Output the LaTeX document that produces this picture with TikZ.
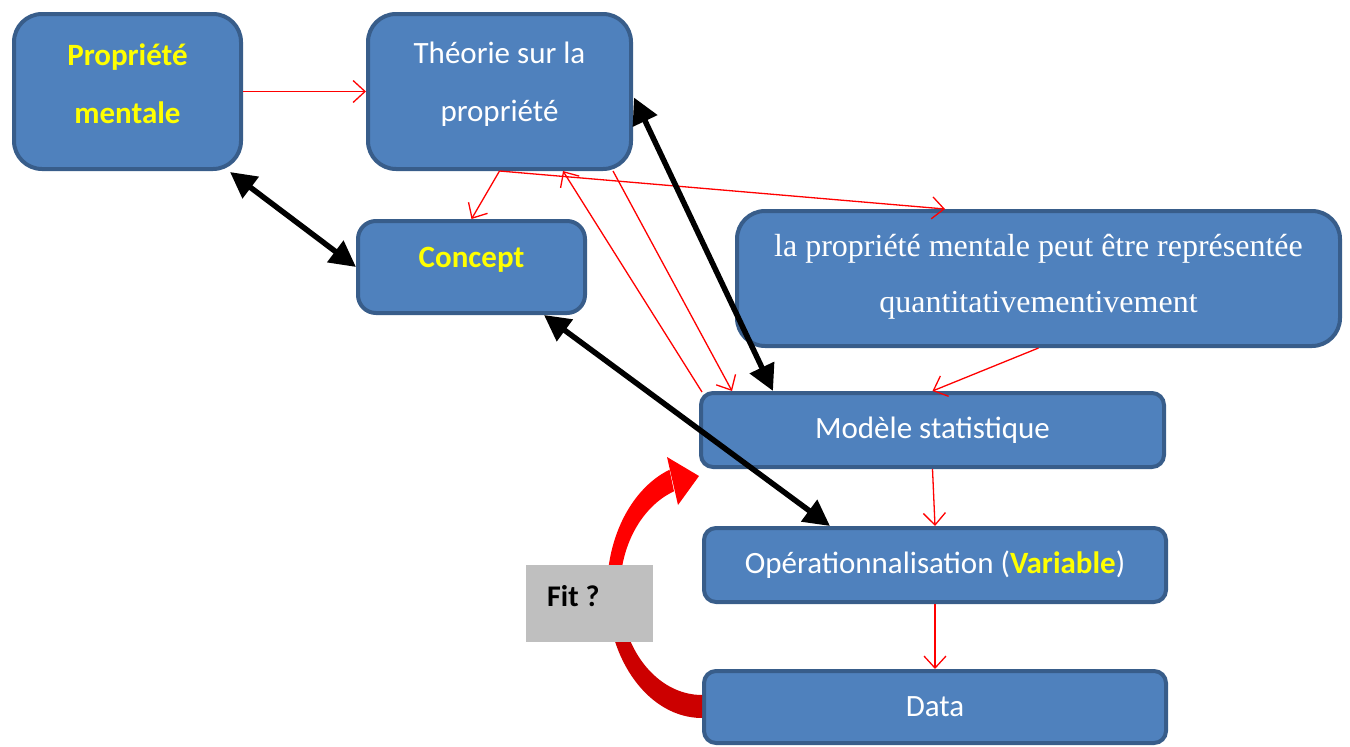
\documentclass[tikz,border=0pt]{standalone}
\usepackage{fontspec}
\setmainfont{Carlito}
\newfontfamily\tnr{Liberation Serif}
\usetikzlibrary{arrows.meta,calc}
\definecolor{boxfill}{HTML}{4F81BD}
\definecolor{boxline}{HTML}{385D8A}
\definecolor{ylw}{HTML}{FFFF00}
\definecolor{rd}{HTML}{FF0000}
\definecolor{drd}{HTML}{CC0000}
\definecolor{gry}{HTML}{BFBFBF}
\begin{document}
\begin{tikzpicture}[x=1pt,y=-1pt,
  box/.style={draw=boxline, fill=boxfill, line width=4pt, rounded corners=#1, inner sep=0pt,
    font=\fontsize{31}{58}\selectfont, text=white, align=center},
  txt/.style={font=\fontsize{31}{58}\selectfont, text=white, align=center, inner sep=0pt},
  sertxt/.style={font=\tnr\fontsize{32}{56}\selectfont, text=white, align=center, inner sep=0pt},
  redarr/.style={draw=rd, line width=1.3pt, -{Straight Barb[length=12pt,width=22pt]}},
  blkarr/.style={draw=black, line width=5.5pt, {Triangle[length=26pt,width=26pt]}-{Triangle[length=26pt,width=26pt]}},
  fitbox/.style={fill=gry, inner sep=0pt, minimum width=127pt, minimum height=77pt}
]
\useasboundingbox (0,0) rectangle (1350,747);

% boxes
\node[box=28pt, minimum width=227pt, minimum height=155pt] (pm) at (127.5,91.5) {};
\node[box=28pt, minimum width=263pt, minimum height=155pt] (th) at (499.5,91.5) {};
\node[box=18pt, minimum width=227pt, minimum height=92pt] (co) at (471.5,267) {};
\node[box=28pt, minimum width=603pt, minimum height=135pt] (wb) at (1038.5,278.5) {};
\node[box=12pt, minimum width=463pt, minimum height=74pt] (ms) at (932.5,430) {Modèle statistique};
\node[box=12pt, minimum width=462pt, minimum height=74pt] (op) at (935,565) {Opérationnalisation (\textcolor{ylw}{\bfseries Variable})};
\node[box=12pt, minimum width=462pt, minimum height=72pt] (da) at (935,707) {Data};

% texts
\node[txt, text=ylw, font=\fontsize{31}{58}\selectfont\bfseries] (pm-t) at (127.5,84) {Propriété\\mentale};
\node[txt] (th-t) at (499.5,84) {Théorie sur la\\propriété};
\node[txt, text=ylw, font=\fontsize{31}{58}\selectfont\bfseries] (co-t) at (471.5,260) {Concept};
\node[sertxt] (wb-t) at (1038.5,277) {la propriété mentale peut être représentée\\quantitativementivement};

% red thin arrows
\draw[redarr] (pm.east) -- (th.west);
\draw[redarr] (th.south) -- (co.north);
\draw[redarr] (th.south) -- ($(wb.north west)+(210,0)$);
\draw[redarr] ($(ms.north west)+(3,1)$) -- ($(th.south west)+(197,0)$);
\draw[redarr] ($(th.south west)+(247,0)$) -- ($(ms.north west)+(33,0)$);
\draw[redarr] (wb.south) -- (ms.north);
\draw[redarr] (ms.south) -- (op.north);
\draw[redarr] (op.south) -- (da.north);

% black double arrows
\draw[blkarr] ($(pm.south east)+(-13,1)$) -- (co.west);
\draw[blkarr] ($(th.east)+(1,6)$) -- ($(ms.north west)+(74,0)$);
\draw[blkarr] ($(co.south west)+(188,0)$) -- ($(op.north west)+(128,0)$);

% curved red arrow
\fill[drd] (702,718) arc[start angle=90, end angle=180, x radius=95, y radius=128]
  -- (620,590) arc[start angle=180, end angle=90, x radius=82, y radius=105] -- cycle;
\fill[rd] (607,590) arc[start angle=180, end angle=250, x radius=95, y radius=128]
  -- (674,491.3) arc[start angle=250, end angle=180, x radius=82, y radius=105] -- cycle;
\fill[rd] (667,457) -- (699,476) -- (678,505) -- cycle;

% fit box
\node[fitbox] (fit) at (589.5,603.5) {};
\node[anchor=west, inner sep=0pt, font=\fontsize{30}{36}\selectfont\bfseries] (fit-t) at (547,596) {Fit ?};
\end{tikzpicture}
\end{document}
